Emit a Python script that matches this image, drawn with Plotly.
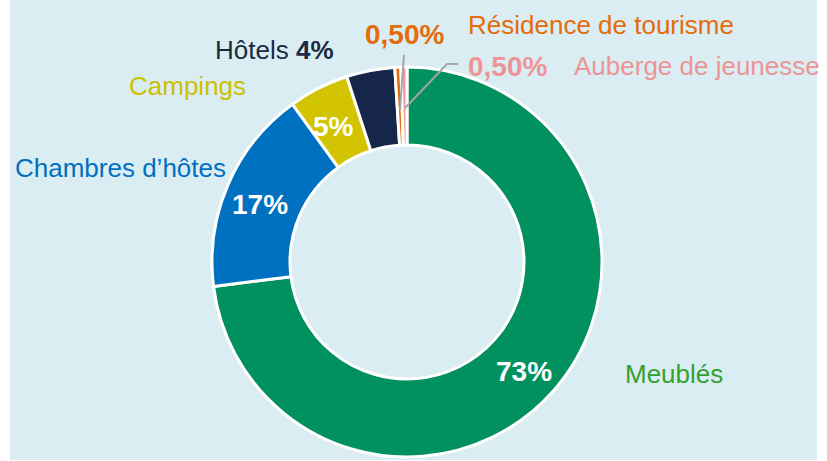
import math
import plotly.graph_objects as go

categories = ["Meublés", "Chambres d’hôtes", "Campings", "Hôtels", "Résidence de tourisme", "Auberge de jeunesse"]
values = [73, 17, 5, 4, 0.5, 0.5]
inside_text = ["73%", "17%", "5%", "", "", ""]
slice_colors = ["#00915F", "#0070C0", "#D2C400", "#15264A", "#E46C0A", "#F19B9B"]

W, H = 827, 461
cx, cy, R = 407, 262, 195
R_TEXT = 158

def px(x):
    return x / W

def py(y):
    return 1 - y / H

font = "Liberation Sans, Arial"

fig = go.Figure()
fig.add_trace(go.Pie(
    labels=categories,
    values=values,
    textinfo="none",
    marker=dict(colors=slice_colors, line=dict(color="white", width=3)),
    hole=0.6,
    sort=False,
    direction="clockwise",
    rotation=0,
    showlegend=False,
    hoverinfo="label+percent",
    domain=dict(x=[px(cx - R), px(cx + R)], y=[py(cy + R), py(cy - R)]),
))

# percentage labels placed at each slice's mid-angle (computed from the values)
annotations = []
total = sum(values)
cum = 0
for v, t in zip(values, inside_text):
    mid = (cum + v / 2) / total * 2 * math.pi
    cum += v
    if not t:
        continue
    x = cx + R_TEXT * math.sin(mid) - 2
    y = cy - R_TEXT * math.cos(mid) + 5
    annotations.append(dict(text=f"<b>{t}</b>", x=px(x), y=py(y), xref="paper", yref="paper",
                            xanchor="center", yanchor="middle", showarrow=False,
                            font=dict(family=font, size=28, color="white")))

ann = [
    ("Hôtels <b>4%</b>", 336, 50, "right", "#1B2A40", 26),
    ("Campings", 248, 86, "right", "#CCC000", 26),
    ("Chambres d’hôtes", 228, 168, "right", "#0070C0", 26),
    ("Meublés", 623, 374, "left", "#35A12E", 26),
    ("<b>0,50%</b>", 363, 34, "left", "#E46C0A", 28),
    ("Résidence de tourisme", 466, 25, "left", "#E46C0A", 26),
    ("<b>0,50%</b>", 466, 66, "left", "#EE9496", 28),
    ("Auberge de jeunesse", 572, 66, "left", "#EE9496", 26),
]
annotations += [
    dict(text=t, x=px(x), y=py(y), xref="paper", yref="paper", xanchor=xa, yanchor="middle",
         showarrow=False, font=dict(family=font, size=s, color=c))
    for t, x, y, xa, c, s in ann
]

shapes = [
    dict(type="rect", xref="paper", yref="paper", x0=px(10), x1=px(817), y0=py(460), y1=1,
         fillcolor="#DAEDF3", line=dict(width=0), layer="below"),
    dict(type="line", xref="paper", yref="paper", x0=px(404), y0=py(55), x1=px(400), y1=py(110),
         line=dict(color="#A6A6A6", width=2)),
    dict(type="path", xref="paper", yref="paper",
         path=f"M {px(458)},{py(64)} L {px(447)},{py(64)} L {px(405)},{py(108)}",
         line=dict(color="#A6A6A6", width=2)),
]

fig.update_layout(
    width=W, height=H,
    margin=dict(l=0, r=0, t=0, b=0),
    paper_bgcolor="white",
    annotations=annotations,
    shapes=shapes,
)

fig.write_html("out.html", config={"displayModeBar": False},
               post_script="document.body.style.margin='0';")
